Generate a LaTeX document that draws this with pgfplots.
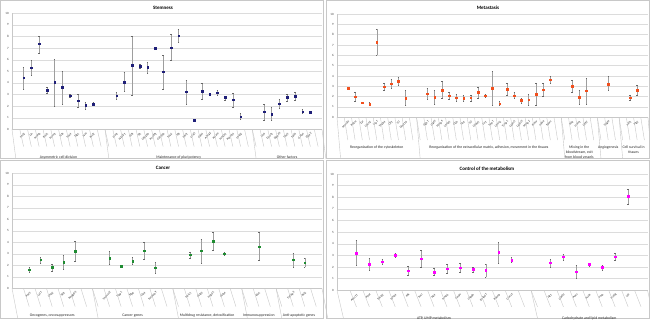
\documentclass[border=0pt]{standalone}
\usepackage{pgfplots}
\pgfplotsset{compat=1.18}
\usepackage{pgfplotstable}
\usepackage{fontspec}
\setmainfont{Carlito}
\definecolor{cnavy}{HTML}{1F1F78}
\definecolor{corange}{HTML}{F2501E}
\definecolor{cgreen}{HTML}{1F8C32}
\definecolor{cmag}{HTML}{FF00FF}
\definecolor{sepc}{HTML}{C8C8C8}
\definecolor{gridc}{HTML}{DCDCDC}

\pgfplotstableread{
x y ep em
1 4.45 0.95 1.00
2 5.32 0.66 0.64
3 7.38 0.69 0.78
4 3.39 0.23 0.26
5 4.08 2.01 2.07
6 3.62 1.38 1.44
7 2.90 0.12 0.17
8 2.47 0.52 0.54
9 2.07 0.29 0.32
10 2.18 0.12 0.11
13 2.90 0.29 0.29
14 4.08 0.86 0.80
15 5.52 2.55 2.56
16 5.46 0.17 0.20
17 5.34 0.46 0.51
18 7.01 0.10 0.10
19 4.97 1.44 1.49
20 7.04 1.12 1.12
21 8.07 0.55 0.60
22 3.25 1.00 1.09
23 0.78 0 0
24 3.30 0.67 0.71
25 3.02 0.08 0.08
26 3.16 0.20 0.23
27 2.76 0.14 0.23
28 2.56 0.54 0.61
29 1.09 0.26 0.23
32 1.52 0.66 0.77
33 1.32 0.58 0.54
34 2.21 0.35 0.37
35 2.76 0.29 0.32
36 2.87 0.32 0.34
37 1.52 0.18 0.14
38 1.47 0.07 0.07
}\stemdata

\pgfplotstableread{
x y ep em
1 2.84 0.05 0.05
2 2.00 0.45 0.42
3 1.42 0.05 0.05
4 1.29 0.19 0.16
5 7.29 1.23 1.23
6 2.97 0.32 0.32
7 3.26 0.42 0.42
8 3.52 0.38 0.39
9 1.84 0.74 0.71
12 2.29 0.52 0.55
13 1.94 0.64 0.62
14 2.65 0.83 0.84
15 2.10 0.32 0.33
16 1.90 0.33 0.38
17 1.84 0.26 0.29
18 1.90 0.26 0.29
19 2.42 0.52 0.52
20 2.10 0.16 0.16
21 2.81 1.61 1.62
22 1.32 0.20 0.16
23 2.74 0.55 0.58
24 2.10 0.32 0.29
25 1.65 0.22 0.26
26 1.71 0.55 0.55
27 2.23 1.06 1.10
28 2.68 0.64 0.62
29 3.65 0.32 0.33
32 3.00 0.61 0.61
33 1.94 0.64 0.62
34 2.58 1.23 1.29
37 3.23 0.71 0.65
40 1.90 0.26 0.25
41 2.65 0.45 0.49
}\metadata

\pgfplotstableread{
x y ep em
1 1.62 0.21 0.23
2 2.49 0.26 0.29
3 1.86 0.28 0.35
4 2.26 0.58 0.61
5 3.25 0.84 0.90
8 2.64 0.55 0.55
9 1.94 0.06 0.06
10 2.38 0.32 0.32
11 3.28 0.75 0.73
12 1.80 0.46 0.52
15 2.93 0.23 0.29
16 3.28 1.01 1.05
17 4.12 0.78 0.82
18 3.01 0.15 0.17
21 3.62 1.25 1.21
24 2.49 0.55 0.61
25 2.23 0.38 0.40
}\cancdata

\pgfplotstableread{
x y ep em
1 3.21 1.06 1.06
2 2.23 0.52 0.54
3 2.46 0.23 0.25
4 3.01 0.17 0.20
5 1.69 0.40 0.40
6 2.72 0.75 0.77
7 1.58 0.31 0.32
8 1.86 0.37 0.37
9 1.95 0.37 0.40
10 1.81 0.14 0.21
11 1.75 0.54 0.58
12 3.27 0.91 0.95
13 2.61 0.20 0.23
16 2.38 0.31 0.35
17 2.89 0.26 0.28
18 1.60 0.58 0.57
19 2.23 0.12 0.14
20 1.98 0.20 0.23
21 2.89 0.29 0.28
22 8.08 0.60 0.66
}\metabdata

\pgfplotsset{
  panel/.style={
    scale only axis,
    axis lines=left,
    axis line style={-, draw=sepc},
    ymin=0, ymax=10, ytick={0,1,...,10},
    ymajorgrids, grid style={gridc, line width=0.4pt},
    tick style={draw=none},
    yticklabel style={font=\fontsize{3.2}{3.5}\selectfont, text=black!75, inner sep=1pt},
    xticklabel style={rotate=45, anchor=east, font=\fontsize{3}{3.3}\selectfont, inner sep=0.5pt, yshift=-2pt, text=black!85},
    clip=false,
    /pgf/number format/assume math mode=true,
  },
  eb/.style={only marks, mark=square*, mark size=0.85pt,
    error bars/y dir=both, error bars/y explicit,
    error bars/error bar style={line width=0.5pt, draw=black!38},
    error bars/error mark options={rotate=90, mark size=0.7pt, line width=0.3pt, draw=black!60}},
}
\tikzset{sep/.style={draw=sepc, line width=0.4pt},
  glab/.style={font=\fontsize{3.8}{4.6}\selectfont, align=center, anchor=north, text=black!85}}

\begin{document}
\begin{tikzpicture}[x=1pt,y=1pt]
\fill[white] (0,0) rectangle (650,319);
% panel borders
\draw[sepc, line width=0.5pt] (0.5,160.5) rectangle (323.5,318.5);
\draw[sepc, line width=0.5pt] (326.5,160.5) rectangle (649.5,318.5);
\draw[sepc, line width=0.5pt] (0.5,0.5) rectangle (323.5,158.5);
\draw[sepc, line width=0.5pt] (326.5,0.5) rectangle (649.5,158.5);

% ---------------- Stemness
\begin{axis}[panel, at={(12pt,189.7pt)}, anchor=south west, width=310pt, height=116pt,
  xmin=-0.5, xmax=39.5,
  xtick={1,...,10,13,14,...,29,32,33,...,38},
  xticklabels={Msi2,Lin,Numb,Bmi1,Prom1,Tcf4,Sox4,Dlk1,Nes,Ascl2,
    Hes1,Nkx2-1,Klf4,Sf1,Cdc25b,Pou5f1,Cd133b,Sox2,Sf3,Msi1,Lrig1,Cd44,Abcg2,Alcam,Notch1,Prdm14,Jarid2,
    Lin9,Dmrt1,Dppa3,Tbx3,Sall4,Gata4,Zfp42}]
\addplot+[eb, color=cnavy, mark options={fill=cnavy, draw=cnavy}] table[x=x,y=y,y error plus=ep,y error minus=em]{\stemdata};
\pgfplotsinvokeforeach{0.5,1.5,...,38.5}{\draw[sep] (axis cs:#1,0) -- ++(0,-17.4pt);}
\pgfplotsinvokeforeach{-0.5,11.5,30.5,39.5}{\draw[sep] (axis cs:#1,0) -- ++(0,-29.5pt);}
\node[glab] at (axis cs:5.5,0) [yshift=-23.3pt] {Asymmetric cell division};
\node[glab] at (axis cs:21,0) [yshift=-23.3pt] {Maintenance of pluripotency};
\node[glab] at (axis cs:35,0) [yshift=-23.3pt] {Other factors};
\end{axis}
\node[font=\fontsize{5}{6}\selectfont\bfseries] at (163,311.5) {Stemness};

% ---------------- Metastasis
\begin{axis}[panel, at={(337pt,201.7pt)}, anchor=south west, width=311pt, height=103.3pt,
  xmin=-0.5, xmax=42.5,
  xtick={1,...,9,12,13,...,29,32,33,34,37,40,41},
  xticklabels={Marcks,Pdlim,Ezr,Cdc42,Lcp1,Tmsb4,Cfl1,Vil,Dock10,
    Itgb1,Itga5,Mmp9,Lama5,Ctsb,Tln1,Vcl,Col4a1,Fn1,Spp1,Lamc2,Timp1,Lgals1,Lgals3,Mmp2,Plaur,Hpse,Sparc,
    Sele,Icam1,Cd97,Vegfa,Akt1,Ptk2}]
\addplot+[eb, color=corange, mark options={fill=corange, draw=corange}] table[x=x,y=y,y error plus=ep,y error minus=em]{\metadata};
\pgfplotsinvokeforeach{0.5,1.5,...,41.5}{\draw[sep] (axis cs:#1,0) -- ++(0,-22.7pt);}
\pgfplotsinvokeforeach{-0.5,10.5,30.5,35.5,38.5,42.5}{\draw[sep] (axis cs:#1,0) -- ++(0,-41.5pt);}
\node[glab] at (axis cs:5,0) [yshift=-25.5pt] {Reorganization of the cytoskeleton};
\node[glab] at (axis cs:20.5,0) [yshift=-25.5pt] {Reorganization of the extracellular matrix, adhesion, movement in the tissues};
\node[glab] at (axis cs:33,0) [yshift=-25.5pt] {Mixing in the\\bloodstream, exit\\from blood vessels};
\node[glab] at (axis cs:37,0) [yshift=-25.5pt] {Angiogenesis};
\node[glab] at (axis cs:40.5,0) [yshift=-25.5pt] {Cell survival in\\tissues};
\end{axis}
\node[font=\fontsize{5}{6}\selectfont\bfseries] at (488,311.5) {Metastasis};

% ---------------- Cancer
\begin{axis}[panel, at={(12pt,30.7pt)}, anchor=south west, width=310pt, height=115pt,
  xmin=-0.5, xmax=26.5,
  xtick={1,...,5,8,9,...,12,15,16,17,18,21,24,25},
  xticklabels={Pax3,Lyl1,Lmo2,Ski1,Rapgef3,
    Tmprss2,Trap1,Sfpq,Clu4,Serpinb9,
    Abcc1,Gsta3,Mgst1,Gsta4,Ido1,Tnfaip3,Bcl2}]
\addplot+[eb, color=cgreen, mark options={fill=cgreen, draw=cgreen}] table[x=x,y=y,y error plus=ep,y error minus=em]{\cancdata};
\pgfplotsinvokeforeach{0.5,1.5,...,25.5}{\draw[sep] (axis cs:#1,0) -- ++(0,-18.3pt);}
\pgfplotsinvokeforeach{-0.5,6.5,13.5,19.5,22.5,26.5}{\draw[sep] (axis cs:#1,0) -- ++(0,-30pt);}
\node[glab] at (axis cs:3,0) [yshift=-22.5pt] {Oncogenes, oncosuppressors};
\node[glab] at (axis cs:10,0) [yshift=-22.5pt] {Cancer genes};
\node[glab] at (axis cs:16.5,0) [yshift=-22.5pt] {Multidrug resistance, detoxification};
\node[glab] at (axis cs:21,0) [yshift=-22.5pt] {Immunosuppression};
\node[glab] at (axis cs:24.5,0) [yshift=-22.5pt] {Anti-apoptotic genes};
\end{axis}
\node[font=\fontsize{5}{6}\selectfont\bfseries] at (163,151.3) {Cancer};

% ---------------- Control of the metabolism
\begin{axis}[panel, at={(337pt,28.7pt)}, anchor=south west, width=310.5pt, height=116.3pt,
  xmin=-0.5, xmax=23.5,
  xtick={1,...,13,16,17,...,22},
  xticklabels={Abcc11,Ppat,Sucla2,Nme4,Pfk,Sucl,Ak4,Nme6,Gmpr,Impdh,Entpd1,Pde4b,Gucy1,
    Hk1,Gpd1l,Aacs,Acsl4,Fasn,Pla2g,Lpl}]
\addplot+[eb, color=cmag, mark options={fill=cmag, draw=cmag}] table[x=x,y=y,y error plus=ep,y error minus=em]{\metabdata};
\pgfplotsinvokeforeach{0.5,1.5,...,22.5}{\draw[sep] (axis cs:#1,0) -- ++(0,-16.5pt);}
\pgfplotsinvokeforeach{-0.5,14.5,23.5}{\draw[sep] (axis cs:#1,0) -- ++(0,-28pt);}
\node[glab] at (axis cs:7,0) [yshift=-22.7pt] {ATP, UMP metabolism};
\node[glab] at (axis cs:19,0) [yshift=-22.7pt] {Carbohydrate and lipid metabolism};
\end{axis}
\node[font=\fontsize{5}{6}\selectfont\bfseries] at (487,150) {Control of the metabolism};

\pgfresetboundingbox
\path (0,0) rectangle (650,319);
\end{tikzpicture}
\end{document}
